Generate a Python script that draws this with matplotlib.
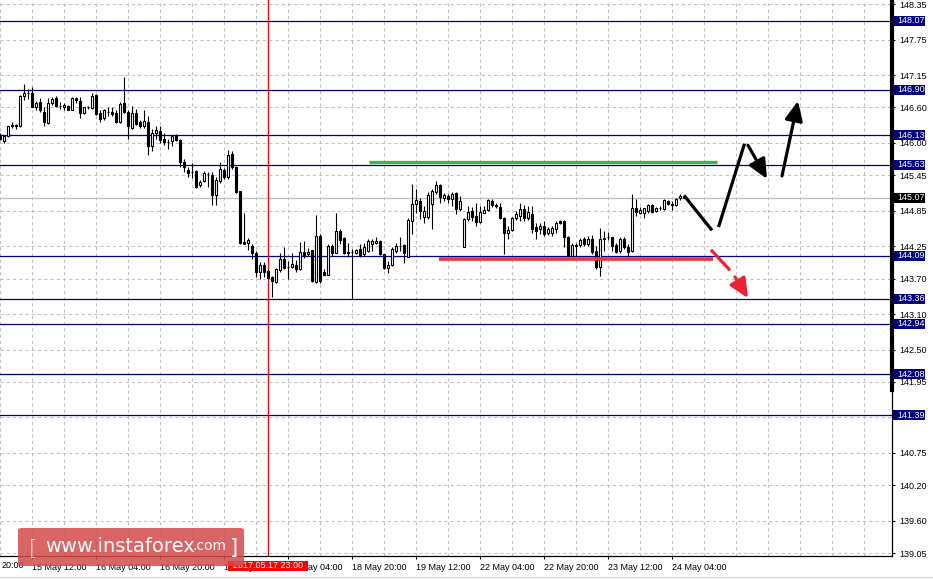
import numpy as np
import matplotlib
matplotlib.use("Agg")
import matplotlib.pyplot as plt
import matplotlib.transforms as mtransforms
from matplotlib.patches import Rectangle, FancyBboxPatch, FancyArrowPatch
from matplotlib.lines import Line2D

# ---------------- data ----------------
# hourly candles, index 0 = 15 May 12:00
candle_index = list(range(-8, 164))
opens = [146.12,146.03,146.12,146.29,146.30,146.28,146.79,146.84,
 146.85,146.60,146.69,146.53,146.33,146.67,146.76,146.63,146.60,146.63,146.56,146.76,146.71,146.50,146.60,146.59,
 146.82,146.50,146.42,146.53,146.53,146.50,146.36,146.67,146.53,146.26,146.50,146.35,146.28,146.35,145.95,146.16,
 146.21,146.06,146.02,146.03,146.13,146.05,145.68,145.54,145.51,145.52,145.28,145.35,145.47,145.46,145.11,145.35,
 145.54,145.43,145.81,145.60,145.18,144.32,144.31,144.26,144.14,143.81,143.94,143.83,143.73,143.64,143.84,144.04,
 143.90,143.90,143.94,143.86,144.15,144.11,144.18,143.65,144.43,143.82,143.77,144.25,144.14,144.51,144.39,144.16,
 144.16,144.14,144.20,144.11,144.17,144.28,144.30,144.34,144.11,143.88,143.94,144.17,144.25,144.27,144.07,144.68,
 144.96,145.02,144.74,144.74,144.96,145.17,145.28,145.06,145.10,145.05,145.15,144.88,144.24,144.71,144.84,144.76,
 144.66,144.82,144.87,145.01,144.94,144.92,144.72,144.47,144.53,144.72,144.77,144.88,144.72,144.80,144.58,144.54,
 144.60,144.48,144.48,144.54,144.68,144.68,144.40,144.09,144.27,144.27,144.37,144.28,144.38,144.17,143.90,144.38,
 144.40,144.40,144.27,144.17,144.38,144.23,144.17,144.90,144.82,144.82,144.85,144.94,144.85,144.89,144.88,145.02,
 144.96,144.94,145.06,145.08]
highs = [146.16,146.13,146.29,146.36,146.32,146.81,146.99,146.92,
 146.94,146.71,146.76,146.60,146.76,146.78,146.80,146.69,146.67,146.64,146.78,146.78,146.78,146.61,146.63,146.85,
 146.83,146.55,146.57,146.60,146.60,146.55,146.69,147.11,146.56,146.62,146.58,146.39,146.56,146.46,146.23,146.29,
 146.29,146.17,146.06,146.13,146.15,146.06,145.73,145.59,145.66,145.54,145.38,145.53,145.50,145.50,145.43,145.67,
 145.57,145.88,145.87,145.61,145.19,144.82,144.39,144.28,144.17,143.99,143.99,143.86,143.74,143.88,144.14,144.24,
 144.00,144.14,144.02,144.32,144.33,144.22,144.19,144.78,144.45,143.86,144.28,144.28,144.81,144.54,144.40,144.31,
 144.20,144.21,144.28,144.31,144.37,144.38,144.40,144.35,144.12,144.00,144.23,144.31,144.40,144.28,144.72,145.30,
 145.22,145.06,144.93,145.16,145.22,145.36,145.30,145.15,145.13,145.16,145.16,145.10,144.72,144.93,144.91,144.99,
 144.93,144.93,145.05,145.05,144.98,144.99,144.74,144.59,144.74,144.85,144.99,144.95,144.93,144.93,144.65,144.65,
 144.68,144.57,144.59,144.68,144.70,144.70,144.42,144.31,144.30,144.39,144.40,144.42,144.44,144.25,144.56,144.51,
 144.49,144.41,144.31,144.41,144.40,144.28,145.13,145.05,144.92,144.90,144.96,144.96,144.92,144.93,145.05,145.04,
 145.01,145.06,145.14,145.10]
lows = [146.05,146.00,146.10,146.26,146.23,146.27,146.73,146.75,
 146.60,146.55,146.53,146.29,146.32,146.65,146.60,146.57,146.56,146.55,146.55,146.67,146.43,146.49,146.57,146.57,
 146.48,146.35,146.39,146.46,146.45,146.33,146.34,146.50,146.06,146.23,146.31,146.26,146.26,145.79,145.87,146.06,
 146.00,145.97,145.90,145.95,146.04,145.59,145.50,145.43,145.40,145.23,145.26,145.33,145.26,144.94,144.94,145.32,
 145.39,145.39,145.56,145.15,144.29,144.28,144.18,144.04,143.72,143.70,143.72,143.70,143.39,143.62,143.81,143.87,
 143.70,143.88,143.81,143.84,144.05,144.08,143.65,143.63,143.62,143.76,143.76,144.08,144.13,144.28,144.12,144.07,
 143.35,144.12,144.07,144.09,144.15,144.17,144.28,144.10,143.86,143.80,143.92,144.14,144.17,143.97,144.06,144.45,
 144.82,144.71,144.65,144.71,144.54,145.13,144.99,145.02,144.99,144.93,144.79,144.85,144.23,144.68,144.68,144.59,
 144.65,144.81,144.85,144.92,144.89,144.71,144.11,144.37,144.51,144.69,144.68,144.68,144.70,144.48,144.37,144.45,
 144.42,144.44,144.42,144.48,144.62,144.23,144.06,144.07,144.09,144.23,144.25,144.25,144.11,143.86,143.75,144.17,
 144.35,144.17,144.13,144.14,144.20,144.06,144.15,144.76,144.79,144.73,144.82,144.82,144.83,144.86,144.86,144.94,
 144.87,144.93,145.04,145.06]
closes = [146.07,146.12,146.28,146.30,146.29,146.80,146.85,146.85,
 146.61,146.67,146.55,146.35,146.67,146.75,146.62,146.63,146.64,146.56,146.76,146.72,146.50,146.60,146.61,146.79,
 146.49,146.41,146.55,146.53,146.49,146.36,146.66,146.52,146.28,146.50,146.32,146.28,146.37,145.95,146.17,146.22,
 146.05,146.01,146.01,146.11,146.05,145.67,145.59,145.49,145.50,145.26,145.34,145.49,145.47,145.11,145.38,145.56,
 145.43,145.80,145.59,145.16,144.31,144.29,144.35,144.14,143.81,143.94,143.81,143.71,143.66,143.87,144.04,143.88,
 143.90,143.95,143.86,144.15,144.09,144.15,143.66,144.43,143.66,143.77,144.25,144.14,144.51,144.36,144.14,144.13,
 144.15,144.18,144.10,144.23,144.33,144.34,144.34,144.11,143.88,143.94,144.20,144.25,144.26,144.13,144.70,144.96,
 145.03,144.85,144.85,145.12,145.19,145.28,145.08,145.12,145.05,145.13,144.88,145.01,144.71,144.83,144.75,144.66,
 144.83,144.87,145.03,144.95,144.93,144.72,144.48,144.53,144.72,144.79,144.88,144.72,144.83,144.55,144.51,144.60,
 144.45,144.54,144.56,144.65,144.65,144.40,144.09,144.27,144.26,144.36,144.29,144.38,144.15,143.90,144.38,144.39,
 144.40,144.26,144.15,144.38,144.23,144.15,144.90,144.83,144.87,144.89,144.94,144.83,144.90,144.89,145.03,144.96,
 144.95,145.05,145.10,145.07]

x_tick_pos = [0, 16, 32, 48, 64, 80, 96, 112, 128, 144, 160]
x_tick_labels = ["15 May 12:00", "16 May 04:00", "16 May 20:00", "17 May 12:00",
                 "18 May 04:00", "18 May 20:00", "19 May 12:00", "22 May 04:00",
                 "22 May 20:00", "23 May 12:00", "24 May 04:00"]
y_ticks = [148.35, 147.75, 147.15, 146.60, 146.00, 145.45, 144.85, 144.25, 143.70,
           143.10, 142.50, 141.95, 141.35, 140.75, 140.20, 139.60, 139.05]
y_hidden_labels = [141.35]   # fully covered by the 141.39 level box in the reference
levels = [148.07, 146.90, 146.13, 145.63, 144.09, 143.36, 142.94, 142.08, 141.39]
current_price = 145.07
marker_time_index = 59
marker_time_label = "2017.05.17 23:00"

green_line_x = [84.25, 171.25]
green_line_y = [145.68, 145.68]
red_line_x = [101.75, 170.25]
red_line_y = [144.03, 144.03]
black_path_x = [163.25, 169.75]
black_path_y = [145.09, 144.54]
black_up_x = [171.75, 178.0]
black_up_y = [144.60, 145.96]
black_arrow1 = [(179.0, 145.96), (183.75, 145.39)]
black_arrow2 = [(187.5, 145.44), (191.5, 146.71)]
red_seg_x = [170.0, 174.25]
red_seg_y = [144.17, 143.86]
red_arrow = [(175.75, 143.73), (179.0, 143.37)]

# ---------------- figure ----------------
W, H = 933, 579
fig = plt.figure(figsize=(W / 100, H / 100), dpi=100)
fig.patch.set_facecolor("white")
ax_bottom_px = 555.7
ax_right_px = 892
ax = fig.add_axes([0, 1 - ax_bottom_px / H, ax_right_px / W, ax_bottom_px / H])
ax.set_facecolor("white")
ax.set_xlim(-8, (ax_right_px - 32) / 4)
ax.set_ylim(139.007, 148.421)

FONT = "Liberation Sans"
FS = 6.5
grid_c = "#c0c0c0"
navy = "#000080"

# grid
for yv in y_ticks:
    ax.axhline(yv, color=grid_c, lw=0.75, dashes=(3, 3), zorder=1)
for xv in range(-8, 216, 8):
    ax.axvline(xv, color=grid_c, lw=0.75, dashes=(3, 3), zorder=1)

# levels
for lv in levels:
    ax.axhline(lv, color=navy, lw=0.9, zorder=2)
ax.axhline(current_price, color="#bdbdbd", lw=0.9, zorder=1.5)

# red time line
ax.axvline(marker_time_index, color="#ff0000", lw=0.9, zorder=2)

# candles
k = np.array(candle_index, dtype=float)
o = np.array(opens); h = np.array(highs); l = np.array(lows); c = np.array(closes)
ax.vlines(k, l, h, color="black", lw=0.8, zorder=3)
bull = c >= o
body_h = np.maximum(np.abs(c - o), 0.001)
body_b = np.minimum(o, c)
ax.bar(k[bull], body_h[bull], bottom=body_b[bull], width=0.62, color="white",
       edgecolor="black", linewidth=0.8, zorder=4)
ax.bar(k[~bull], body_h[~bull], bottom=body_b[~bull], width=0.62, color="black",
       edgecolor="black", linewidth=0.8, zorder=4)

# annotations
ax.plot(green_line_x, green_line_y, color="#3cb44b", lw=2.4, solid_capstyle="butt", zorder=5)
ax.plot(red_line_x, red_line_y, color="#f0303c", lw=2.6, solid_capstyle="butt", zorder=5)
ax.plot(black_path_x, black_path_y, color="black", lw=2.3, zorder=6)
ax.plot(black_up_x, black_up_y, color="black", lw=2.3, zorder=6)
ax.plot(red_seg_x, red_seg_y, color="#ee2233", lw=2.3, zorder=6)
for (p0, p1), col in [(black_arrow1, "black"), (black_arrow2, "black"), (red_arrow, "#ee2233")]:
    arr = FancyArrowPatch(p0, p1, arrowstyle="-|>,head_length=0.65,head_width=0.3",
                          mutation_scale=18, color=col, lw=2.3, shrinkA=0, shrinkB=0, zorder=6)
    ax.add_patch(arr)

# spines
for s in ["left", "top"]:
    ax.spines[s].set_visible(False)
for s in ["right", "bottom"]:
    ax.spines[s].set_color("black")
    ax.spines[s].set_linewidth(0.9)
ax.add_line(Line2D([1.0, 1.0], [1.0, 1 - 390 / ax_bottom_px], transform=ax.transAxes,
                   color="black", lw=3.0, clip_on=False, zorder=7))

# ticks
ax.yaxis.tick_right()
ax.set_yticks(y_ticks)
ax.set_yticklabels(["" if v in y_hidden_labels else f"{v:.2f}" for v in y_ticks],
                   fontfamily=FONT, fontsize=FS)
ax.set_xticks(x_tick_pos)
ax.set_xticklabels(x_tick_labels, fontfamily=FONT, fontsize=FS, ha="left")
ax.tick_params(axis="y", direction="out", length=2.5, width=0.75, pad=3, colors="black")
ax.tick_params(axis="x", direction="out", length=2.5, width=0.75, pad=2.5, colors="black")

# partial first label (14 May 20:00, clipped at left edge)
fig.text(2 / W, 1 - 566 / H, "20:00", fontfamily=FONT, fontsize=FS, ha="left", va="center")

# level labels
blend_y = mtransforms.blended_transform_factory(fig.transFigure, ax.transData)
box_h = 10 / 59.03
for lv, fc in [(v, navy) for v in levels] + [(current_price, "black")]:
    ax.add_patch(Rectangle((893.3 / W, lv - box_h / 2), 32 / W, box_h, transform=blend_y,
                           facecolor=fc, edgecolor="none", clip_on=False, zorder=8))
    ax.text(897.5 / W, lv, f"{lv:.2f}", transform=blend_y, color="white", fontfamily=FONT,
            fontsize=FS, ha="left", va="center", clip_on=False, zorder=9)

# red time label
blend_x = mtransforms.blended_transform_factory(ax.transData, fig.transFigure)
ax.add_patch(Rectangle((marker_time_index - 9.9, 1 - 571 / H), 19.8, 10.5 / H, transform=blend_x,
                       facecolor="#ff0000", edgecolor="none", clip_on=False, zorder=8))
ax.text(marker_time_index, 1 - 565.8 / H, marker_time_label, transform=blend_x, color="white",
        fontfamily=FONT, fontsize=FS, ha="center", va="center", clip_on=False, zorder=9)

# watermark logo
logo = FancyBboxPatch((18 / W, 1 - 566 / H), 226 / W, 38 / H, boxstyle="round,pad=0,rounding_size=0.004",
                      transform=fig.transFigure, facecolor="#d44a4a", edgecolor="none", alpha=0.85, zorder=20)
fig.add_artist(logo)
fig.text(33 / W, 1 - 548 / H, "[", color="white", fontfamily="DejaVu Sans", fontsize=15,
         ha="center", va="center", zorder=21, fontweight="light")
fig.text(45 / W, 1 - 547 / H, "www.instaforex", color="white", fontfamily="DejaVu Sans",
         fontsize=14, ha="left", va="center", zorder=21)
fig.text(192 / W, 1 - 545.5 / H, ".com", color="white", fontfamily="DejaVu Sans",
         fontsize=10, ha="left", va="center", zorder=21)
fig.text(234 / W, 1 - 548 / H, "]", color="white", fontfamily="DejaVu Sans", fontsize=15,
         ha="center", va="center", zorder=21)

fig.add_artist(Line2D([0, 1], [1 - 577 / H, 1 - 577 / H], transform=fig.transFigure,
                      color="#d8d8d8", lw=1))

fig.savefig("out.png", dpi=100, facecolor="white")
